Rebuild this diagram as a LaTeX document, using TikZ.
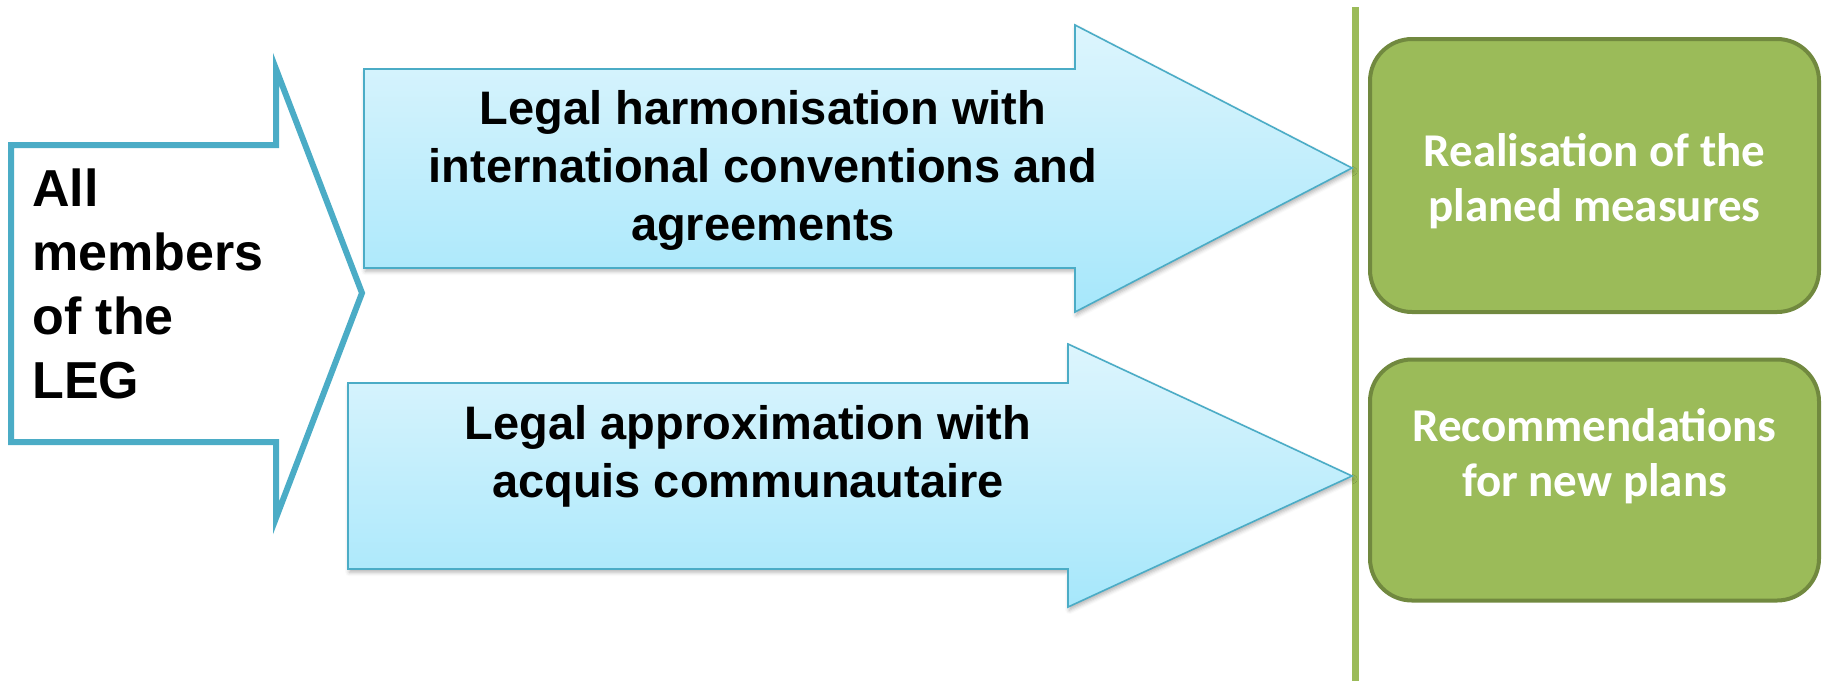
\documentclass[tikz,border=0pt]{standalone}
\usepackage{fontspec}
\setmainfont{Liberation Sans}
\newfontfamily\calibrifont{Carlito}
\usepackage{tikz}
\usetikzlibrary{shadows.blur}

\definecolor{legblue}{RGB}{75,172,198}
\definecolor{legtop}{RGB}{221,245,253}
\definecolor{legbottom}{RGB}{166,231,251}
\definecolor{leggreen}{RGB}{155,187,89}
\definecolor{leggreendark}{RGB}{113,137,63}

\begin{document}
\begin{tikzpicture}[x=0.5pt,y=-0.5pt,
  bigarrow/.style={draw=legblue, line width=0.8pt, top color=legtop, bottom color=legbottom,
    blur shadow={shadow xshift=0.6pt, shadow yshift=-1.6pt, shadow blur radius=2pt, shadow opacity=30}},
  arrowtext/.style={align=center, inner sep=0pt, font=\fontsize{23.5pt}{29pt}\selectfont\bfseries},
  greenbox/.style={draw=leggreendark, fill=leggreen, line width=2pt, rounded corners=21pt,
    rectangle, minimum width=224.5pt},
  boxtext/.style={align=center, inner sep=0pt, text=white,
    font=\calibrifont\fontsize{23.5pt}{27.5pt}\selectfont\bfseries}]
  \useasboundingbox (0,0) rectangle (1823,681);

  % divider
  \draw[leggreen, line width=3.5pt] (1355,7) -- (1355,681);

  % left arrow
  \draw[legblue, fill=white, line width=3pt]
    (11,145) -- (276,145) -- (276,69) -- (362,293) -- (276,518) -- (276,442) -- (11,442) -- cycle;
  \node[anchor=west, align=left, inner sep=0pt, font=\fontsize{26pt}{32pt}\selectfont\bfseries]
    (members) at (32,284) {All\\members\\of the\\LEG};

  % two arrows
  \path[bigarrow] (364,69) -- (1075,69) -- (1075,25) -- (1352,168) -- (1075,312) -- (1075,268) -- (364,268) -- cycle;
  \path[bigarrow] (348,383) -- (1068,383) -- (1068,344) -- (1352,476) -- (1068,607) -- (1068,569) -- (348,569) -- cycle;
  \node[arrowtext] (harmon) at (763,170) {Legal harmonisation with\\international conventions and\\agreements};
  \node[arrowtext] (approx) at (748,456) {Legal approximation with\\acquis communautaire};

  % results
  \node[greenbox, minimum height=136.5pt] (realbox) at (1594.5,175.5) {};
  \node[greenbox, minimum height=120.5pt] (recbox) at (1594.5,480) {};
  \node[boxtext] (realtext) at ([yshift=-3pt]realbox) {Realisation of the\\planed measures};
  \node[boxtext] (rectext) at ([yshift=12pt]recbox) {Recommendations\\for new plans};
\end{tikzpicture}
\end{document}
